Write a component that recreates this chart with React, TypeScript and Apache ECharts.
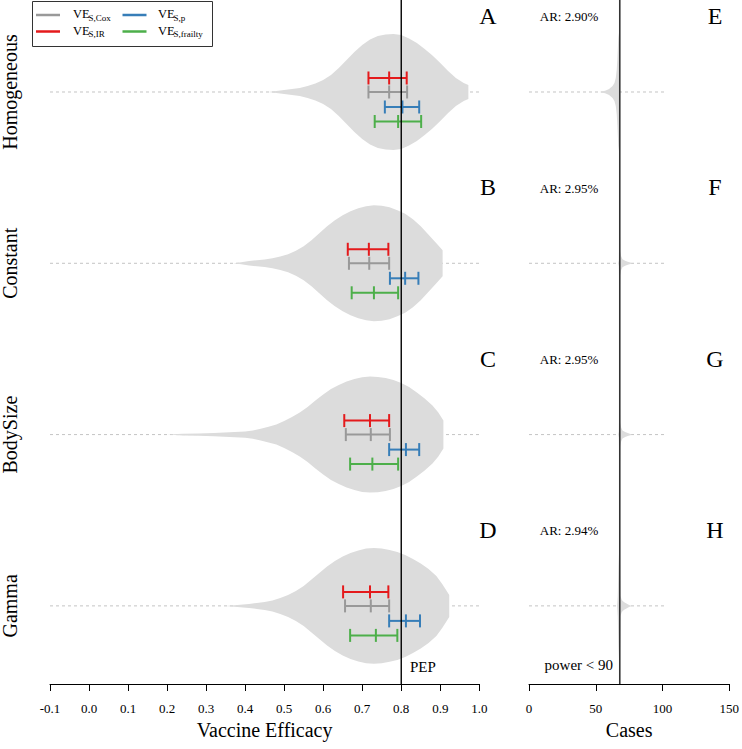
import React, { useEffect, useRef } from "react";
import * as echarts from "echarts";

// ---------- data ----------
const rowNames = ["Homogeneous", "Constant", "BodySize", "Gamma"];
const leftLetters = ["A", "B", "C", "D"];
const rightLetters = ["E", "F", "G", "H"];
const attackRates = ["AR: 2.90%", "AR: 2.95%", "AR: 2.95%", "AR: 2.94%"];

const PEP = 0.8; // vaccine efficacy under the alternative
const targetCases = 68; // cases for the final analysis

// estimates per row: [lower, estimate, upper]
const veCox = [
  [0.716, 0.769, 0.815],
  [0.666, 0.718, 0.769],
  [0.658, 0.722, 0.771],
  [0.656, 0.722, 0.769],
];
const veIR = [
  [0.716, 0.769, 0.814],
  [0.663, 0.717, 0.767],
  [0.654, 0.72, 0.769],
  [0.651, 0.72, 0.767],
];
const veP = [
  [0.758, 0.803, 0.846],
  [0.771, 0.81, 0.844],
  [0.769, 0.812, 0.846],
  [0.769, 0.812, 0.848],
];
const veFrailty = [
  [0.732, 0.792, 0.851],
  [0.673, 0.73, 0.792],
  [0.669, 0.726, 0.792],
  [0.669, 0.735, 0.79],
];

// violin profiles of the VE estimates: [VE, relative density]
const violinHomogeneous = [
  [0.46, 0], [0.48, 1], [0.5, 2], [0.52, 3], [0.54, 4], [0.56, 6], [0.58, 8.5],
  [0.6, 12], [0.62, 17], [0.64, 24], [0.66, 32], [0.68, 40], [0.7, 47], [0.72, 52.5],
  [0.74, 56], [0.76, 57.5], [0.78, 58], [0.8, 57], [0.82, 53.5], [0.84, 49], [0.86, 43],
  [0.88, 36.5], [0.9, 29], [0.92, 21], [0.94, 14], [0.96, 9], [0.972, 7],
];
const violinConstant = [
  [0.37, 0], [0.39, 1], [0.41, 2.2], [0.43, 3], [0.45, 3.8], [0.47, 5], [0.49, 6.8],
  [0.51, 9], [0.53, 12.5], [0.55, 17], [0.57, 23], [0.59, 30], [0.61, 37], [0.63, 43],
  [0.65, 48], [0.67, 52], [0.69, 55], [0.71, 57], [0.73, 58], [0.75, 57.5], [0.77, 56],
  [0.79, 53], [0.81, 49.5], [0.83, 44], [0.85, 37], [0.87, 28.5], [0.89, 20], [0.906, 13],
];
const violinBodySize = [
  [0.2, 0], [0.24, 0.8], [0.28, 1.2], [0.32, 1.7], [0.36, 2.3], [0.4, 3.2], [0.42, 4.2],
  [0.44, 5.8], [0.46, 7.8], [0.48, 10], [0.5, 13.5], [0.52, 17.5], [0.54, 22], [0.56, 27.5],
  [0.58, 34], [0.6, 40], [0.62, 45.5], [0.64, 49.5], [0.66, 53], [0.68, 55.5], [0.7, 57.3],
  [0.72, 58], [0.74, 57.7], [0.76, 56.5], [0.78, 54.5], [0.8, 51.5], [0.82, 47.5], [0.84, 42],
  [0.86, 36], [0.88, 29], [0.895, 22], [0.908, 14],
];
const violinGamma = [
  [0.35, 0], [0.38, 1], [0.41, 2], [0.43, 3], [0.45, 4], [0.47, 5.5], [0.49, 8], [0.51, 11],
  [0.53, 15], [0.55, 20], [0.57, 26.5], [0.59, 33], [0.61, 39.5], [0.63, 45], [0.65, 49.5],
  [0.67, 53], [0.69, 55.5], [0.71, 57.3], [0.73, 57.8], [0.75, 57.3], [0.77, 55.8], [0.79, 54],
  [0.81, 51], [0.83, 47], [0.85, 42.5], [0.87, 37], [0.89, 30], [0.905, 22], [0.923, 11],
];

// violin profiles of the number of cases: [cases, relative density]
const casesHomogeneous = [
  [52.5, 0], [55, 0.6], [57.5, 1.5], [60, 3], [62.6, 6], [64, 9], [65, 14], [65.7, 22],
  [66.2, 33], [66.6, 45], [66.9, 54], [67.5, 60], [68, 62],
];
const casesConstant = [
  [66.8, 0], [67.3, 3], [67.6, 30], [67.8, 55], [68, 60], [68.3, 12], [69, 7], [70, 4],
  [72, 2.5], [74, 1.5], [76, 0.7], [77, 0],
];
const casesBodySize = [
  [66.8, 0], [67.3, 3], [67.6, 30], [67.8, 55], [68, 60], [68.3, 12], [69, 7], [70, 4],
  [72, 2.5], [74, 1.5], [76, 0.7], [77, 0],
];
const casesGamma = [
  [66, 0], [66.5, 10], [67, 40], [67.5, 55], [68, 63], [68.5, 10], [69.5, 6], [71, 4],
  [73, 2.5], [75, 1], [77, 0],
];

const veViolins = [violinHomogeneous, violinConstant, violinBodySize, violinGamma];
const caseViolins = [casesHomogeneous, casesConstant, casesBodySize, casesGamma];

// ---------- layout / style ----------
const W = 742;
const H = 749;
const FONT = "'Liberation Serif', 'Times New Roman', serif";
const AXIS_Y = 684;
const Y_MIN = -0.537;
const Y_MAX = 3.456;
const rowPx = (i: number) => ((i - Y_MIN) / (Y_MAX - Y_MIN)) * AXIS_Y;
const ROW_PX = AXIS_Y / (Y_MAX - Y_MIN);
const DENS = 1 / ROW_PX; // density units -> row units
const VIOLIN_FILL = "#dcdcdc";

const estimators = [
  { name: "Cox", data: veCox, color: "#999999", offset: 0 },
  { name: "IR", data: veIR, color: "#E41A1C", offset: -14 },
  { name: "p", data: veP, color: "#377EB8", offset: 15 },
  { name: "frailty", data: veFrailty, color: "#4DAF4A", offset: 29.5 },
];

function violinSeries(shapes: number[][][], gridIdx: number) {
  return {
    type: "custom",
    xAxisIndex: gridIdx,
    yAxisIndex: gridIdx,
    silent: true,
    z: 2,
    data: shapes.map((_, i) => [shapes[i][0][0], i]),
    renderItem: (params: any, api: any) => {
      const row = params.dataIndex;
      const shape = shapes[row];
      const upper = shape.map(([x, d]) => api.coord([x, row - d * DENS]));
      const lower = shape
        .slice()
        .reverse()
        .map(([x, d]) => api.coord([x, row + d * DENS]));
      return {
        type: "polygon",
        shape: { points: [...upper, ...lower] },
        style: { fill: VIOLIN_FILL, stroke: "none" },
      };
    },
  };
}

function dottedSeries(from: number, to: number, gridIdx: number) {
  return {
    type: "custom",
    xAxisIndex: gridIdx,
    yAxisIndex: gridIdx,
    silent: true,
    z: 1,
    data: rowNames.map((_, i) => [from, i]),
    renderItem: (params: any, api: any) => {
      const row = params.dataIndex;
      const a = api.coord([from, row]);
      const b = api.coord([to, row]);
      return {
        type: "line",
        shape: { x1: a[0], y1: a[1], x2: b[0], y2: b[1] },
        style: { stroke: "#c4c4c4", lineWidth: 1, lineDash: [3, 3] },
      };
    },
  };
}

function errorBarSeries(est: any) {
  return {
    type: "custom",
    name: est.name,
    xAxisIndex: 0,
    yAxisIndex: 0,
    silent: true,
    z: 4,
    data: est.data.map((d: number[], i: number) => [d[1], i]),
    renderItem: (params: any, api: any) => {
      const row = params.dataIndex;
      const [lo, mid, hi] = est.data[row];
      const pLo = api.coord([lo, row]);
      const pMid = api.coord([mid, row]);
      const pHi = api.coord([hi, row]);
      const y = pLo[1] + est.offset;
      const style = { stroke: est.color, lineWidth: 2 };
      return {
        type: "group",
        children: [
          { type: "line", shape: { x1: pLo[0], y1: y, x2: pHi[0], y2: y }, style },
          ...[pLo, pMid, pHi].map((p) => ({
            type: "line",
            shape: { x1: p[0], y1: y - 6.5, x2: p[0], y2: y + 6.5 },
            style,
          })),
        ],
      };
    },
  };
}

function App() {
  const ref = useRef<HTMLDivElement>(null);
  useEffect(() => {
    if (!ref.current) return;
    const chart = echarts.init(ref.current, null, { renderer: "svg" });

    const axisCommon = {
      type: "value",
      axisLine: { show: true, onZero: false, lineStyle: { color: "#000", width: 1 } },
      axisTick: { show: true, length: 7, lineStyle: { color: "#000", width: 1 } },
      splitLine: { show: false },
      nameLocation: "middle",
      nameGap: 36,
      nameTextStyle: { fontFamily: FONT, fontSize: 20, color: "#000" },
    };

    const graphics: any[] = [];
    rowNames.forEach((name, i) => {
      const y = rowPx(i);
      graphics.push({
        type: "text",
        x: 10,
        y,
        rotation: Math.PI / 2,
        style: { text: name, fontFamily: FONT, fontSize: 20, fill: "#000", align: "center", verticalAlign: "middle" },
      });
      graphics.push({
        type: "text",
        x: 488,
        y: y - 76,
        style: { text: leftLetters[i], fontFamily: FONT, fontSize: 24, fill: "#000", align: "center", verticalAlign: "middle" },
      });
      graphics.push({
        type: "text",
        x: 715,
        y: y - 76,
        style: { text: rightLetters[i], fontFamily: FONT, fontSize: 24, fill: "#000", align: "center", verticalAlign: "middle" },
      });
      graphics.push({
        type: "text",
        x: 569,
        y: y - 75,
        style: { text: attackRates[i], fontFamily: FONT, fontSize: 13, fill: "#000", align: "center", verticalAlign: "middle" },
      });
    });
    graphics.push({
      type: "text",
      x: 410,
      y: 667,
      style: { text: "PEP", fontFamily: FONT, fontSize: 15, fill: "#000", align: "left", verticalAlign: "middle" },
    });
    graphics.push({
      type: "text",
      x: 613,
      y: 665,
      style: { text: "power < 90", fontFamily: FONT, fontSize: 15, fill: "#000", align: "right", verticalAlign: "middle" },
    });

    // legend
    graphics.push({
      type: "rect",
      shape: { x: 32.5, y: 1.5, width: 180, height: 45 },
      style: { fill: "#fff", stroke: "#333", lineWidth: 1 },
      z: 10,
    });
    const legendItems = [
      { sub: "S,Cox", color: "#999999", x: 36, tx: 73, y: 15 },
      { sub: "S,IR", color: "#E41A1C", x: 36, tx: 73, y: 31.5 },
      { sub: "S,p", color: "#377EB8", x: 122.5, tx: 158, y: 15 },
      { sub: "S,frailty", color: "#4DAF4A", x: 122.5, tx: 158, y: 31.5 },
    ];
    legendItems.forEach((it) => {
      graphics.push({
        type: "line",
        shape: { x1: it.x, y1: it.y, x2: it.x + 24, y2: it.y },
        style: { stroke: it.color, lineWidth: 2.5 },
        z: 11,
      });
      graphics.push({
        type: "text",
        x: it.tx,
        y: it.y - 1,
        style: { text: "VE", fontFamily: FONT, fontSize: 12.5, fill: "#000", align: "left", verticalAlign: "middle" },
        z: 11,
      });
      graphics.push({
        type: "text",
        x: it.tx + 15.5,
        y: it.y + 2.5,
        style: { text: it.sub, fontFamily: FONT, fontSize: 9, fill: "#000", align: "left", verticalAlign: "middle" },
        z: 11,
      });
    });

    const option: any = {
      animation: false,
      backgroundColor: "#fff",
      textStyle: { fontFamily: FONT },
      grid: [
        { left: 50, right: W - 479.3, top: 0, bottom: H - AXIS_Y },
        { left: 529, right: W - 732, top: 0, bottom: H - AXIS_Y },
      ],
      xAxis: [
        {
          ...axisCommon,
          gridIndex: 0,
          min: -0.1,
          max: 1.0,
          interval: 0.1,
          name: "Vaccine Efficacy",
          axisLabel: {
            fontFamily: FONT,
            fontSize: 13,
            color: "#000",
            margin: 18,
            formatter: (v: number) => (Math.abs(v) < 1e-9 ? "0.0" : v.toFixed(1)),
          },
        },
        {
          ...axisCommon,
          gridIndex: 1,
          min: 0,
          max: 150,
          interval: 50,
          name: "Cases",
          axisLabel: { fontFamily: FONT, fontSize: 13, color: "#000", margin: 18 },
        },
      ],
      yAxis: [
        { type: "value", gridIndex: 0, min: Y_MIN, max: Y_MAX, inverse: true, show: false },
        { type: "value", gridIndex: 1, min: Y_MIN, max: Y_MAX, inverse: true, show: false },
      ],
      series: [
        dottedSeries(-0.1, 1.0, 0),
        dottedSeries(0, 102, 1),
        violinSeries(veViolins, 0),
        violinSeries(caseViolins, 1),
        ...estimators.map(errorBarSeries),
        {
          type: "line",
          xAxisIndex: 0,
          yAxisIndex: 0,
          data: [
            [PEP, Y_MIN],
            [PEP, Y_MAX],
          ],
          symbol: "none",
          silent: true,
          z: 6,
          lineStyle: { color: "#000", width: 1.4 },
        },
        {
          type: "line",
          xAxisIndex: 1,
          yAxisIndex: 1,
          data: [
            [targetCases, Y_MIN],
            [targetCases, Y_MAX],
          ],
          symbol: "none",
          silent: true,
          z: 6,
          lineStyle: { color: "#333", width: 1.6 },
        },
      ],
      graphic: graphics,
    };
    chart.setOption(option);
    return () => chart.dispose();
  }, []);
  return (
    <div
      ref={ref}
      style={{ position: "absolute", left: 0, top: 0, width: W, height: H, background: "#fff" }}
    />
  );
}

export default App;
